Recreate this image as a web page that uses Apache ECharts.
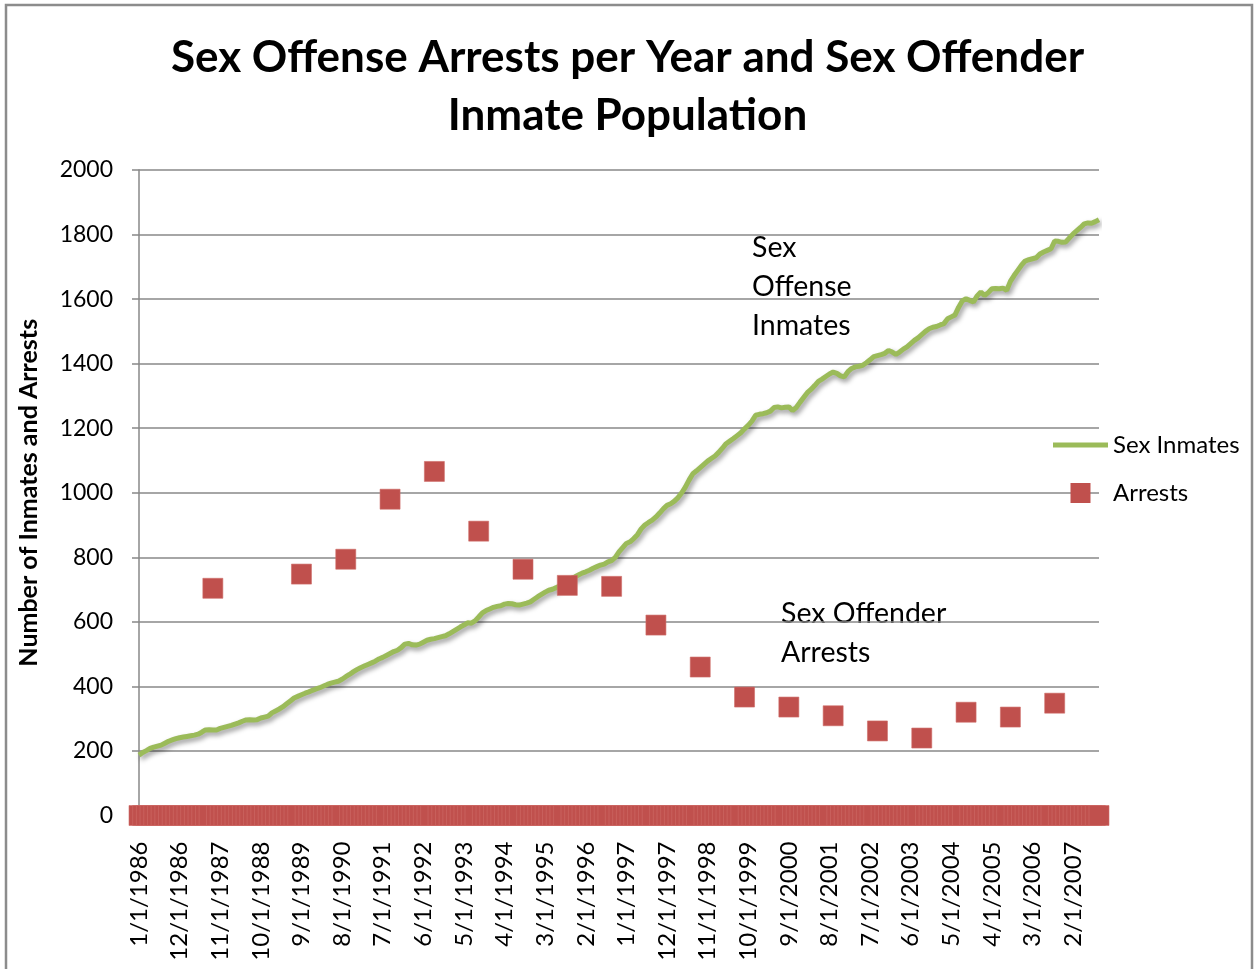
<!DOCTYPE html>
<html>
<head>
<meta charset="utf-8">
<script src="https://cdn.jsdelivr.net/npm/echarts@6/dist/echarts.min.js"></script>
<style>
html,body{margin:0;padding:0;background:#fff;}
#chart{width:1255px;height:969px;}
</style>
</head>
<body>
<div id="chart"></div>
<script>
// Monthly sex-offense inmate population, Jan 1986 .. Sep 2007
const inmates1986 = [187,195,201,208,212,215,218,224,230,234,238,241];
const inmates1987 = [243,245,247,249,252,258,265,266,265,265,270,273];
const inmates1988 = [276,279,283,287,292,296,297,296,297,302,305,308];
const inmates1989 = [318,324,330,337,346,355,364,369,374,379,383,388];
const inmates1990 = [392,396,401,406,410,413,416,422,430,437,445,452];
const inmates1991 = [458,463,468,473,478,485,490,496,502,508,512,520];
const inmates1992 = [531,533,529,528,531,537,543,546,548,551,554,557];
const inmates1993 = [563,570,577,584,590,597,596,603,615,628,635,640];
const inmates1994 = [645,648,650,655,657,656,653,652,655,658,662,670];
const inmates1995 = [678,685,692,698,701,706,712,720,728,734,739,745];
const inmates1996 = [751,755,760,766,771,776,779,786,790,800,817,830];
const inmates1997 = [843,848,858,870,888,900,908,915,925,937,950,961];
const inmates1998 = [966,974,985,1000,1018,1040,1059,1068,1078,1088,1098,1106];
const inmates1999 = [1114,1125,1138,1152,1160,1168,1177,1186,1198,1209,1222,1240];
const inmates2000 = [1243,1245,1248,1253,1264,1266,1263,1265,1266,1255,1264,1280];
const inmates2001 = [1295,1310,1320,1332,1345,1352,1360,1368,1374,1370,1362,1359];
const inmates2002 = [1375,1385,1390,1392,1395,1403,1412,1422,1425,1428,1432,1441];
const inmates2003 = [1436,1429,1436,1445,1452,1462,1472,1480,1490,1500,1508,1513];
const inmates2004 = [1515,1520,1524,1539,1545,1551,1575,1595,1601,1596,1591,1610];
const inmates2005 = [1622,1611,1620,1632,1633,1632,1634,1627,1655,1673,1689,1705];
const inmates2006 = [1718,1722,1725,1728,1740,1746,1751,1756,1780,1779,1776,1777];
const inmates2007 = [1790,1802,1812,1822,1833,1836,1835,1840,1846];

// Yearly sex-offense arrests (plotted in September of each year)
const arrestMonths = ['9/1/1987','9/1/1989','9/1/1990','9/1/1991','9/1/1992','9/1/1993','9/1/1994','9/1/1995','9/1/1996','9/1/1997','9/1/1998','9/1/1999','9/1/2000','9/1/2001','9/1/2002','9/1/2003','9/1/2004','9/1/2005','9/1/2006'];
const arrestValues = [704,748,794,980,1066,881,763,713,710,590,460,367,336,309,262,240,320,305,348];

const yTicks = {min: 0, max: 2000, interval: 200};

const inmates = [].concat(inmates1986,inmates1987,inmates1988,inmates1989,inmates1990,inmates1991,
  inmates1992,inmates1993,inmates1994,inmates1995,inmates1996,inmates1997,inmates1998,inmates1999,
  inmates2000,inmates2001,inmates2002,inmates2003,inmates2004,inmates2005,inmates2006,inmates2007);

const categories = inmates.map((v, i) => ((i % 12) + 1) + '/1/' + (1986 + Math.floor(i / 12)));
const arrests = categories.map(c => {
  const k = arrestMonths.indexOf(c);
  return k >= 0 ? arrestValues[k] : 0;
});

const FONT = 'Lato';
const chart = echarts.init(document.getElementById('chart'), null, {renderer: 'canvas'});
chart.setOption({
  animation: false,
  backgroundColor: '#fff',
  title: {
    text: 'Sex Offense Arrests per Year and Sex Offender\nInmate Population',
    left: 'center',
    top: 24,
    textStyle: {fontFamily: FONT, fontSize: 44, fontWeight: 'bold', color: '#000', lineHeight: 58}
  },
  grid: {left: 139, right: 156, top: 170, bottom: 153.5, containLabel: false},
  legend: {
    orient: 'vertical',
    left: 1053,
    top: 433,
    padding: 0,
    itemWidth: 55,
    itemHeight: 20,
    itemGap: 24,
    symbolKeepAspect: true,
    textStyle: {fontFamily: FONT, fontSize: 24, color: '#000'},
    data: [
      {name: 'Sex Inmates', icon: 'path://M0,0 L55,0 L55,5 L0,5 Z', itemStyle: {color: '#9BBB59'}},
      {name: 'Arrests', icon: 'path://M0,0 L18,0 L18,18 L0,18 Z', itemStyle: {color: '#C0504D', borderWidth: 0}}
    ]
  },
  xAxis: {
    type: 'category',
    data: categories,
    boundaryGap: false,
    axisLine: {show: true, lineStyle: {color: '#888', width: 1.5}},
    axisTick: {show: false},
    axisLabel: {interval: 10, rotate: 90, margin: 26, fontFamily: FONT, fontSize: 24, color: '#000'},
    splitLine: {show: false}
  },
  yAxis: {
    type: 'value',
    min: yTicks.min, max: yTicks.max, interval: yTicks.interval,
    name: 'Number of Inmates and Arrests',
    nameLocation: 'middle',
    nameGap: 98,
    nameRotate: 90,
    nameTextStyle: {fontFamily: FONT, fontSize: 25, fontWeight: 'bold', color: '#000'},
    axisLine: {show: true, lineStyle: {color: '#888', width: 1.5}},
    axisTick: {show: true, length: 7, lineStyle: {color: '#888', width: 1.5}},
    axisLabel: {margin: 26, fontFamily: FONT, fontSize: 23, color: '#000', formatter: v => String(v)},
    splitLine: {show: true, lineStyle: {color: '#888', width: 1.5}}
  },
  series: [
    {
      name: 'Sex Inmates',
      type: 'line',
      data: inmates,
      showSymbol: false,
      symbol: 'none',
      lineStyle: {color: '#9BBB59', width: 5, shadowColor: 'rgba(0,0,0,0.4)', shadowBlur: 5, shadowOffsetX: 2, shadowOffsetY: 3},
      itemStyle: {color: '#9BBB59'},
      z: 2
    },
    {
      name: 'Arrests',
      type: 'line',
      data: arrests,
      symbol: 'rect',
      symbolSize: 20,
      showAllSymbol: true,
      lineStyle: {width: 0, opacity: 0},
      itemStyle: {color: '#C0504D', borderColor: '#CE6B68', borderWidth: 0.6},
      z: 3
    }
  ],
  graphic: [
    {type: 'rect', shape: {x: 6, y: 5, width: 1246, height: 990}, style: {fill: 'none', stroke: '#8c8c8c', lineWidth: 2.5}, silent: true},
    {type: 'text', left: 752, top: 228, style: {text: 'Sex\nOffense\nInmates', fontFamily: FONT, fontSize: 28.5, lineHeight: 39, fill: '#000'}},
    {type: 'text', left: 781, top: 594, style: {text: 'Sex Offender\nArrests', fontFamily: FONT, fontSize: 28.5, lineHeight: 39, fill: '#000'}}
  ]
});
</script>
</body>
</html>
